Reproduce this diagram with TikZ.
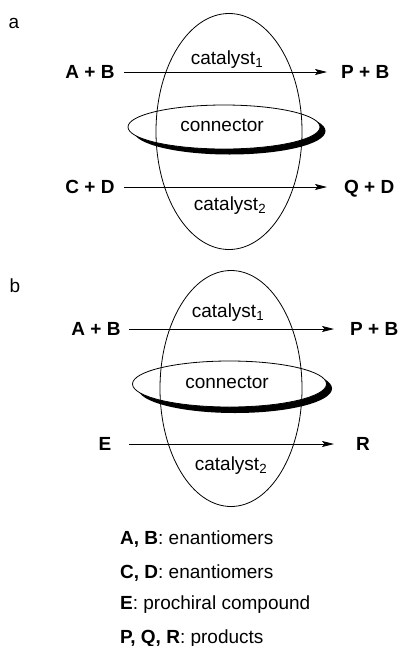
\documentclass[tikz,border=0pt]{standalone}
\usepackage{fontspec}
\setmainfont{Liberation Sans}
\usetikzlibrary{arrows.meta}
\begin{document}
\begin{tikzpicture}[x=1pt,y=-1pt,
  txt/.style={inner sep=0pt,font=\fontsize{19}{22}\selectfont},
  lbl/.style={inner sep=0pt,font=\fontsize{19}{22}\selectfont\bfseries},
  arr/.style={line width=0.8pt,-{Stealth[length=12pt,width=6pt,inset=2.5pt]}},
  outl/.style={line width=0.8pt},
  shadowfill/.style={fill=black},
  connfill/.style={fill=white,draw=black,line width=0.8pt}]
\useasboundingbox (0,0) rectangle (399,646);

% ---------------- panel a
\node[txt,anchor=base] (la) at (14,28) {a};
\fill[shadowfill] (229.5,131) ellipse [x radius=96pt,y radius=23.5pt];
\filldraw[connfill] (224,127) ellipse [x radius=96pt,y radius=22pt];
\draw[outl] (229,131.5) ellipse [x radius=73pt,y radius=118pt];
\node[txt,anchor=mid] (conna) at (222,129) {connector};
\node[txt,anchor=mid] (cat1a) at (227,62) {catalyst\textsubscript{1}};
\node[txt,anchor=mid] (cat2a) at (230,208) {catalyst\textsubscript{2}};
\node[lbl,anchor=base] (aba) at (90,78.6) {A + B};
\node[lbl,anchor=base west] (pba) at (341,78.6) {P + B};
\node[lbl,anchor=base] (cda) at (90,193.6) {C + D};
\node[lbl,anchor=base west] (qda) at (344,193.6) {Q + D};
\coordinate (a1s) at (124,72);
\coordinate (a1e) at (327,72);
\coordinate (a2s) at (124,187);
\coordinate (a2e) at (327,187);
\draw[arr] (a1s) -- (a1e);
\draw[arr] (a2s) -- (a2e);

% ---------------- panel b
\node[txt,anchor=base] (lb) at (15,292) {b};
\fill[shadowfill] (235,388.5) ellipse [x radius=97pt,y radius=24.5pt];
\filldraw[connfill] (229.5,384) ellipse [x radius=97pt,y radius=23pt];
\draw[outl] (231,388.5) ellipse [x radius=71pt,y radius=118pt];
\node[txt,anchor=mid] (connb) at (227,386) {connector};
\node[txt,anchor=mid] (cat1b) at (228,315) {catalyst\textsubscript{1}};
\node[txt,anchor=mid] (cat2b) at (231,468) {catalyst\textsubscript{2}};
\node[lbl,anchor=base] (abb) at (96,335.6) {A + B};
\node[lbl,anchor=base west] (pbb) at (350,335.6) {P + B};
\node[lbl,anchor=base] (eb) at (105,450.6) {E};
\node[lbl,anchor=base] (rb) at (363,450.6) {R};
\coordinate (b1s) at (129,329);
\coordinate (b1e) at (334,329);
\coordinate (b2s) at (129,444);
\coordinate (b2e) at (334,444);
\draw[arr] (b1s) -- (b1e);
\draw[arr] (b2s) -- (b2e);

% ---------------- legend
\node[txt,anchor=base west] (leg1) at (120,544.6) {\textbf{A, B}: enantiomers};
\node[txt,anchor=base west] (leg2) at (120,578.6) {\textbf{C, D}: enantiomers};
\node[txt,anchor=base west] (leg3) at (120,609.6) {\textbf{E}: prochiral compound};
\node[txt,anchor=base west] (leg4) at (120,643) {\textbf{P, Q, R}: products};
\end{tikzpicture}
\end{document}
